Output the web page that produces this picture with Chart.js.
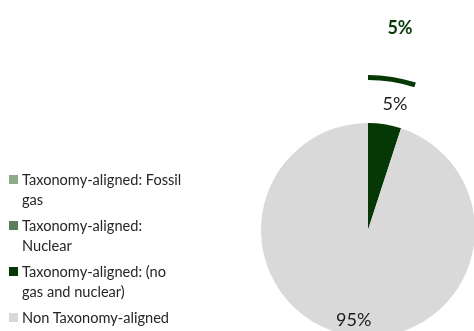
<!DOCTYPE html>
<html>
<head>
<meta charset="utf-8">
<script src="https://cdn.jsdelivr.net/npm/chart.js@4.4.1/dist/chart.umd.min.js"></script>
<style>
    html, body { margin: 0; padding: 0; background: #fff; overflow: hidden; }
    #wrap { position: relative; width: 474px; height: 331px; }
    #chart { position: absolute; left: 0; top: 0; }
    #legend { position: absolute; left: 9px; top: 170px; font-family: Lato, sans-serif; font-size: 14.6px; color: #262626; }
    .item { position: relative; padding-left: 13px; margin-bottom: 7px; line-height: 19.5px; white-space: nowrap; }
    .box { position: absolute; left: 0; top: 5px; width: 9px; height: 9px; }
</style>
</head>
<body>
<div id="wrap">
    <canvas id="chart" width="474" height="331"></canvas>
    <div id="legend"></div>
</div>
<script>
// categories (legend text, already split into lines)
const categories = [
    ['Taxonomy-aligned: Fossil', 'gas'],
    ['Taxonomy-aligned:', 'Nuclear'],
    ['Taxonomy-aligned: (no', 'gas and nuclear)'],
    ['Non Taxonomy-aligned']
];
const sliceColors = ['#8fab8c', '#5b7f5a', '#063806', '#d9d9d9'];

// share of investments, %
const shareValues = [0, 0, 5, 95];
// outer ring: total taxonomy-aligned
const alignedRing = [0, 0, 5, 95];
const ringColors = ['transparent', 'transparent', '#063806', 'transparent'];

// legend
const legend = document.getElementById('legend');
categories.forEach(function (lines, i) {
    const item = document.createElement('div');
    item.className = 'item';
    const box = document.createElement('span');
    box.className = 'box';
    box.style.background = sliceColors[i];
    item.appendChild(box);
    item.appendChild(document.createTextNode(lines[0]));
    for (let k = 1; k < lines.length; k++) {
        item.appendChild(document.createElement('br'));
        item.appendChild(document.createTextNode(lines[k]));
    }
    legend.appendChild(item);
});

// percentage labels drawn next to the arcs
const sliceLabels = {
    id: 'sliceLabels',
    afterDatasetsDraw(chart) {
        const ctx = chart.ctx;
        ctx.save();
        ctx.textAlign = 'center';
        ctx.textBaseline = 'middle';

        const pie = chart.getDatasetMeta(2);
        pie.data.forEach(function (arc, i) {
            const v = shareValues[i];
            if (!v) return;
            const p = arc.getProps(['x', 'y', 'startAngle', 'endAngle', 'outerRadius'], true);
            const mid = (p.startAngle + p.endAngle) / 2;
            const outside = v < 10;
            const r = p.outerRadius * (outside ? 1.19 : 0.85);
            ctx.font = '18px Lato, sans-serif';
            ctx.fillStyle = '#1a1a1a';
            ctx.fillText(v + '%', p.x + Math.cos(mid) * r + (outside ? 7 : 0), p.y + Math.sin(mid) * r);
        });

        const ring = chart.getDatasetMeta(0);
        ring.data.forEach(function (arc, i) {
            if (ringColors[i] === 'transparent' || !alignedRing[i]) return;
            const p = arc.getProps(['x', 'y', 'startAngle', 'endAngle', 'outerRadius'], true);
            const mid = (p.startAngle + p.endAngle) / 2;
            const r = p.outerRadius * 1.32;
            ctx.font = 'bold 18px Lato, sans-serif';
            ctx.fillStyle = '#063806';
            ctx.fillText(alignedRing[i] + '%', p.x + Math.cos(mid) * r, p.y + Math.sin(mid) * r);
        });
        ctx.restore();
    }
};

const ctx = document.getElementById('chart').getContext('2d');
new Chart(ctx, {
    type: 'pie',
    data: {
        labels: categories,
        datasets: [
            { data: alignedRing, backgroundColor: ringColors, borderWidth: 0, weight: 5, clip: false },
            { data: shareValues, backgroundColor: 'transparent', borderWidth: 0, weight: 43, clip: false },
            { data: shareValues, backgroundColor: sliceColors, borderWidth: 0, weight: 107, clip: false }
        ]
    },
    options: {
        responsive: false,
        animation: false,
        radius: 155,
        layout: { padding: { left: 262, right: 0, top: 129, bottom: 0 } },
        plugins: {
            legend: { display: false },
            tooltip: { enabled: false }
        }
    },
    plugins: [sliceLabels]
});
</script>
</body>
</html>
